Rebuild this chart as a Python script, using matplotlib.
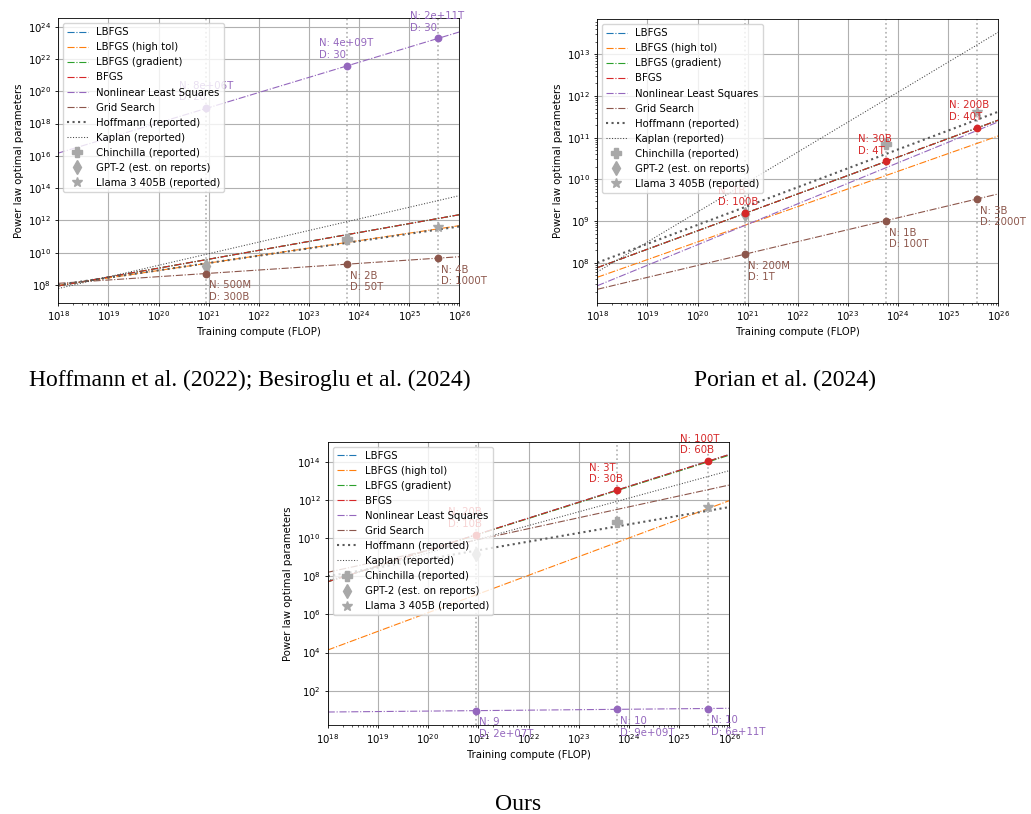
import numpy as np
import matplotlib
matplotlib.use('Agg')
import matplotlib.pyplot as plt

# ---------------- data ----------------
x_range = [1e18, 1e26]                       # compute range of fitted lines
compute_points = [9.0e20, 5.76e23, 3.8e25]   # GPT-2, Chinchilla, Llama 3 405B compute

methods = ['LBFGS', 'LBFGS (high tol)', 'LBFGS (gradient)', 'BFGS',
           'Nonlinear Least Squares', 'Grid Search']

hoffmann_line = [1.0e8, 4.2e11]
kaplan_line = [6.0e7, 3.4e13]

chinchilla_pt = (5.76e23, 7.0e10)
gpt2_pt = (9.0e20, 1.5e9)
llama_pt = (3.8e25, 4.05e11)

# Panel 1: Hoffmann et al. / Besiroglu et al. data
p1_lines = {
    'LBFGS': [8.7e7, 2.24e12],
    'LBFGS (high tol)': [9.3e7, 4.7e11],
    'LBFGS (gradient)': [8.7e7, 2.24e12],
    'BFGS': [8.7e7, 2.24e12],
    'Nonlinear Least Squares': [1.48e16, 4.7e23],
    'Grid Search': [1.26e8, 5.6e9],
}
p1_max_method = 'Nonlinear Least Squares'
p1_max_vals = [8.9e18, 3.8e21, 1.9e23]
p1_max_labels = ['N: 8e+06T\nD: 20', 'N: 4e+09T\nD: 30', 'N: 2e+11T\nD: 30']
p1_min_method = 'Grid Search'
p1_min_vals = [5.1e8, 1.94e9, 4.6e9]
p1_min_labels = ['N: 500M\nD: 300B', 'N: 2B\nD: 50T', 'N: 4B\nD: 1000T']
p1_ylim = (10**6.9, 10**24.52)
p1_yticks = [1e8, 1e10, 1e12, 1e14, 1e16, 1e18, 1e20, 1e22, 1e24]

# Panel 2: Porian et al. data
p2_lines = {
    'LBFGS': [7.6e7, 2.63e11],
    'LBFGS (high tol)': [4.47e7, 1.1e11],
    'LBFGS (gradient)': [7.6e7, 2.63e11],
    'BFGS': [7.6e7, 2.63e11],
    'Nonlinear Least Squares': [2.8e7, 2.4e11],
    'Grid Search': [2.3e7, 4.47e9],
}
p2_max_method = 'BFGS'
p2_max_vals = [1.54e9, 2.7e10, 1.72e11]
p2_max_labels = ['N: 1B\nD: 100B', 'N: 30B\nD: 4T', 'N: 200B\nD: 40T']
p2_min_method = 'Grid Search'
p2_min_vals = [1.6e8, 1.0e9, 3.4e9]
p2_min_labels = ['N: 200M\nD: 1T', 'N: 1B\nD: 100T', 'N: 3B\nD: 2000T']
p2_ylim = (10**7.04, 10**13.84)
p2_yticks = [1e8, 1e9, 1e10, 1e11, 1e12, 1e13]

# Panel 3: Ours
p3_lines = {
    'LBFGS': [5.1e7, 2.4e14],
    'LBFGS (high tol)': [1.35e4, 9.1e11],
    'LBFGS (gradient)': [5.1e7, 2.2e14],
    'BFGS': [5.1e7, 2.4e14],
    'Nonlinear Least Squares': [7.6, 11.9],
    'Grid Search': [1.6e8, 6.0e12],
}
p3_max_method = 'BFGS'
p3_max_vals = [1.5e10, 3.3e12, 1.07e14]
p3_max_labels = ['N: 20B\nD: 10B', 'N: 3T\nD: 30B', 'N: 100T\nD: 60B']
p3_min_method = 'Nonlinear Least Squares'
p3_min_vals = [8.95, 10.5, 11.6]
p3_min_labels = ['N: 9\nD: 2e+07T', 'N: 10\nD: 9e+09T', 'N: 10\nD: 6e+11T']
p3_ylim = (10**0.2, 10**15.05)
p3_yticks = [1e2, 1e4, 1e6, 1e8, 1e10, 1e12, 1e14]

captions = ['Hoffmann et al. (2022); Besiroglu et al. (2024)',
            'Porian et al. (2024)', 'Ours']
xticks = [1e18, 1e19, 1e20, 1e21, 1e22, 1e23, 1e24, 1e25, 1e26]

# ---------------- style ----------------
FS = 7.25
plt.rcParams.update({
    'font.family': ['DejaVu Sans'],
    'font.size': FS,
    'axes.linewidth': 0.6,
    'xtick.labelsize': FS, 'ytick.labelsize': FS,
    'xtick.major.size': 2.5, 'ytick.major.size': 2.5,
    'xtick.minor.size': 1.45, 'ytick.minor.size': 1.45,
    'xtick.major.width': 0.6, 'ytick.major.width': 0.6,
    'xtick.minor.width': 0.45, 'ytick.minor.width': 0.45,
    'xtick.major.pad': 2.5, 'ytick.major.pad': 2.5,
    'axes.labelpad': 2.9,
    'legend.fontsize': FS,
    'grid.color': '#b0b0b0', 'grid.linewidth': 0.8,
})

colors = dict(zip(methods, ['tab:blue', 'tab:orange', 'tab:green', 'tab:red',
                            'tab:purple', 'tab:brown']))
REF = '#a8a8a8'

W, H = 1031, 814
fig = plt.figure(figsize=(W / 100, H / 100), dpi=100)


def panel(rect, lines, max_m, max_v, max_l, min_m, min_v, min_l, ylim, yticks):
    ax = fig.add_axes(rect)
    ax.set_xscale('log')
    ax.set_yscale('log')
    for m in methods:
        ax.plot(x_range, lines[m], ls='-.', color=colors[m], lw=0.8, label=m)
    ax.plot(x_range, hoffmann_line, ls=':', color='#5a5a5a', lw=1.5,
            label='Hoffmann (reported)')
    ax.plot(x_range, kaplan_line, ls=':', color='#444444', lw=0.75,
            label='Kaplan (reported)')
    ax.plot([chinchilla_pt[0]], [chinchilla_pt[1]], ls='none', marker='P',
            color=REF, ms=7, label='Chinchilla (reported)')
    ax.plot([gpt2_pt[0]], [gpt2_pt[1]], ls='none', marker='d',
            color=REF, ms=7.5, label='GPT-2 (est. on reports)')
    ax.plot([llama_pt[0]], [llama_pt[1]], ls='none', marker='*',
            color=REF, ms=7, label='Llama 3 405B (reported)')
    for c in compute_points:
        ax.axvline(c, color='#b0b0b0', ls=':', lw=1.2, zorder=1)
    ax.plot(compute_points, max_v, ls='none', marker='o', ms=4.6,
            color=colors[max_m])
    for c, v, lab in zip(compute_points, max_v, max_l):
        ax.annotate(lab, (c, v), xytext=(-20, 4.2), textcoords='offset points',
                    ha='left', va='bottom', color=colors[max_m], fontsize=FS)
    ax.plot(compute_points, min_v, ls='none', marker='o', ms=4.6,
            color=colors[min_m])
    for c, v, lab in zip(compute_points, min_v, min_l):
        ax.annotate(lab, (c, v), xytext=(2, -4.8), textcoords='offset points',
                    ha='left', va='top', color=colors[min_m], fontsize=FS)
    ax.set_xlim(x_range[0], x_range[1])
    ax.set_ylim(*ylim)
    ax.set_xticks(xticks)
    ax.set_yticks(yticks)
    ax.grid(True, which='major')
    ax.set_xlabel('Training compute (FLOP)')
    ax.set_ylabel('Power law optimal parameters')
    ax.legend(loc='upper left')
    return ax


panel([58.3 / W, 1 - 302.7 / H, 401 / W, 284.4 / H], p1_lines,
      p1_max_method, p1_max_vals, p1_max_labels,
      p1_min_method, p1_min_vals, p1_min_labels, p1_ylim, p1_yticks)
panel([597.3 / W, 1 - 302.7 / H, 401 / W, 283.4 / H], p2_lines,
      p2_max_method, p2_max_vals, p2_max_labels,
      p2_min_method, p2_min_vals, p2_min_labels, p2_ylim, p2_yticks)
panel([327.7 / W, 1 - 725 / H, 401.6 / W, 283.3 / H], p3_lines,
      p3_max_method, p3_max_vals, p3_max_labels,
      p3_min_method, p3_min_vals, p3_min_labels, p3_ylim, p3_yticks)

cap_pos = [(250, 386), (784.5, 386), (518, 810)]
for txt, (cx, cy) in zip(captions, cap_pos):
    fig.text(cx / W, 1 - cy / H, txt, ha='center', va='baseline',
             fontfamily='Liberation Serif', fontsize=17)

fig.savefig('out.png', dpi=100)
